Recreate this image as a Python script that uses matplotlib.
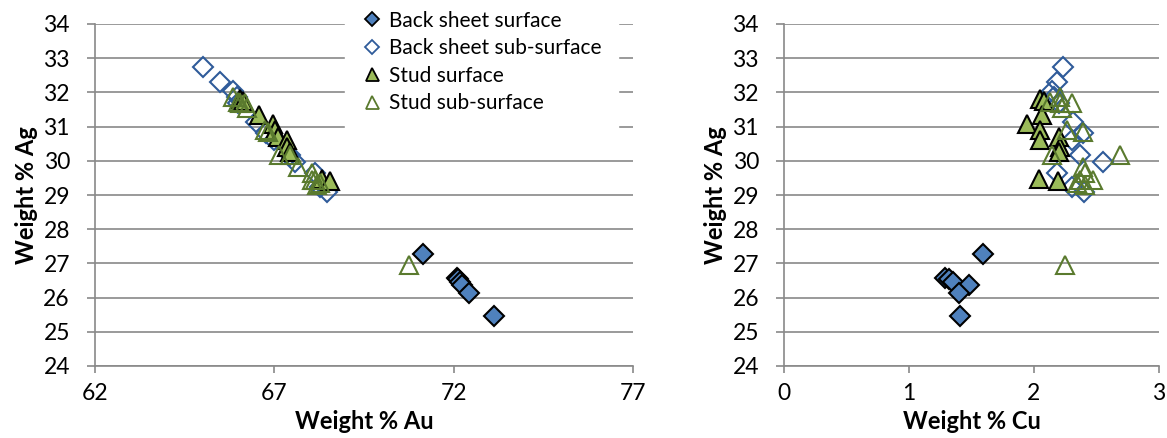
import matplotlib
matplotlib.use("Agg")
import matplotlib.pyplot as plt
from matplotlib.lines import Line2D

plt.rcParams["font.family"] = ["Lato", "DejaVu Sans"]

# Back sheet surface
bs_surf_ag = [27.27, 26.58, 26.55, 26.45, 26.38, 26.14, 25.46]
bs_surf_au = [71.14, 72.10, 72.12, 72.18, 72.22, 72.43, 73.12]
bs_surf_cu = [1.59, 1.29, 1.32, 1.35, 1.48, 1.40, 1.41]

# Back sheet sub-surface
bs_sub_ag = [32.75, 32.31, 32.05, 31.88, 31.68, 31.14, 30.80, 30.61, 30.17, 29.97, 29.63, 29.24, 29.10]
bs_sub_au = [65.02, 65.48, 65.86, 65.95, 65.99, 66.50, 66.78, 67.00, 67.44, 67.58, 68.13, 68.27, 68.46]
bs_sub_cu = [2.23, 2.18, 2.14, 2.16, 2.20, 2.31, 2.39, 2.30, 2.37, 2.55, 2.18, 2.30, 2.40]

# Stud surface
st_surf_ag = [31.82, 31.74, 31.34, 31.08, 30.90, 30.70, 30.61, 30.41, 30.27, 29.46, 29.42]
st_surf_au = [66.04, 66.13, 66.58, 66.95, 67.02, 67.10, 67.34, 67.34, 67.45, 68.32, 68.55]
st_surf_cu = [2.05, 2.08, 2.06, 1.94, 2.05, 2.20, 2.05, 2.21, 2.20, 2.04, 2.19]

# Stud sub-surface
st_sub_ag = [31.87, 31.73, 31.68, 31.70, 31.53, 30.90, 30.85, 30.17, 30.17, 29.83, 29.63, 29.44, 29.44, 29.34, 29.30, 26.95]
st_sub_au = [65.86, 66.00, 66.18, 66.05, 66.23, 66.74, 66.83, 67.44, 67.14, 67.67, 68.04, 68.13, 68.05, 68.27, 68.20, 70.75]
st_sub_cu = [2.21, 2.13, 2.21, 2.30, 2.22, 2.26, 2.39, 2.14, 2.69, 2.39, 2.41, 2.37, 2.47, 2.34, 2.41, 2.25]

labels = ["Back sheet surface", "Back sheet sub-surface", "Stud surface", "Stud sub-surface"]

BLUE = "#4F81BD"
BLUE_EDGE = "#2F5B9A"
GREEN = "#9BBB59"
GREEN_EDGE = "#5A7A2E"
GRID = "#898989"

styles = [
    dict(marker="D", ms=10.3, mfc=BLUE, mec="black", mew=1.5),
    dict(marker="D", ms=10.3, mfc="none", mec=BLUE_EDGE, mew=1.5),
    dict(marker="^", ms=13, mfc=GREEN, mec="black", mew=1.5),
    dict(marker="^", ms=13, mfc="none", mec=GREEN_EDGE, mew=1.5),
]

W, H = 1167, 438
fig = plt.figure(figsize=(W / 100, H / 100), dpi=100)
ax1 = fig.add_axes([95 / W, 1 - 366 / H, 538 / W, 342 / H])
ax2 = fig.add_axes([784 / W, 1 - 366 / H, 375 / W, 342 / H])


def style_axes(ax, xlim, xticks):
    ax.set_xlim(*xlim)
    ax.set_ylim(24, 34)
    ax.set_xticks(xticks)
    ax.set_yticks(range(24, 35))
    for s in ["top", "right"]:
        ax.spines[s].set_visible(False)
    for s in ["left", "bottom"]:
        ax.spines[s].set_color(GRID)
        ax.spines[s].set_linewidth(1.2)
    ax.yaxis.grid(True, color=GRID, lw=1.2)
    ax.set_axisbelow(True)
    ax.tick_params(axis="y", direction="out", length=6, width=1.2, color=GRID,
                   pad=12, labelsize=16.5)
    ax.tick_params(axis="x", direction="out", length=5, width=1.2, color=GRID,
                   pad=7, labelsize=16.5)


series_ag = [bs_surf_ag, bs_sub_ag, st_surf_ag, st_sub_ag]
series_au = [bs_surf_au, bs_sub_au, st_surf_au, st_sub_au]
series_cu = [bs_surf_cu, bs_sub_cu, st_surf_cu, st_sub_cu]

for au, ag, st in zip(series_au, series_ag, styles):
    ax1.plot(au, ag, ls="none", clip_on=False, **st)
for cu, ag, st in zip(series_cu, series_ag, styles):
    ax2.plot(cu, ag, ls="none", clip_on=False, **st)

style_axes(ax1, (62, 77), [62, 67, 72, 77])
style_axes(ax2, (0, 3), [0, 1, 2, 3])

for ax, name in [(ax1, "Weight % Au"), (ax2, "Weight % Cu")]:
    ax.set_xlabel(name, fontsize=17, fontweight="bold", va="baseline")
    ax.xaxis.set_label_coords(0.5, -0.185)
    ax.set_ylabel("Weight % Ag", fontsize=17, fontweight="bold", labelpad=4)

handles = []
for st, lab in zip(styles, labels):
    h = dict(st)
    h["ms"] = st["ms"] * 0.72
    h["mew"] = 1.3
    handles.append(Line2D([], [], ls="none", label=lab, **h))

leg = ax1.legend(handles=handles, loc="upper left",
                 bbox_to_anchor=(345 / W, 1 + 6 / H), bbox_transform=fig.transFigure,
                 fontsize=15, frameon=True, fancybox=False, framealpha=1,
                 edgecolor="white", facecolor="white", borderpad=0.8,
                 handlelength=1.0, handletextpad=0.3, labelspacing=0.36,
                 borderaxespad=0)
leg.set_zorder(5)

fig.savefig("out.png", dpi=100)
